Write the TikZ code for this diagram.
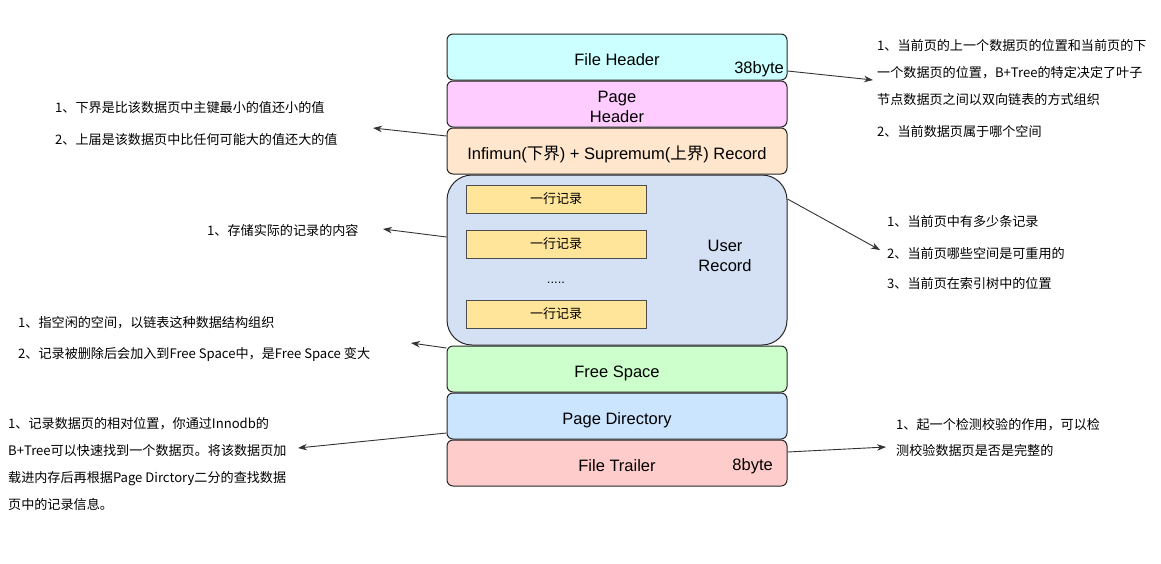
\documentclass[tikz,border=0pt]{standalone}
\usepackage{fontspec}
\setmainfont{Liberation Sans}
\newfontfamily\cjk{Noto Sans CJK SC}
\usetikzlibrary{arrows.meta}
\definecolor{fhcol}{HTML}{CCFFFF}
\definecolor{phcol}{HTML}{FFCCFF}
\definecolor{ifcol}{HTML}{FFE6CC}
\definecolor{urcol}{HTML}{D4E1F5}
\definecolor{rowcol}{HTML}{FFE599}
\definecolor{fscol}{HTML}{CCFFCC}
\definecolor{pdcol}{HTML}{CCE5FF}
\definecolor{ftcol}{HTML}{FFCCCC}
\begin{document}
\begin{tikzpicture}[x=1pt,y=-1pt,
	layer/.style={draw=black!85, line width=1pt, rounded corners=6pt, minimum width=340pt, minimum height=46pt, inner sep=0pt, text height=18pt, text depth=2pt, font=\fontsize{16.5}{19.5}\selectfont},
	row/.style={draw=black!70, line width=1pt, fill=rowcol, minimum width=180pt, minimum height=28pt, inner sep=0pt, font=\cjk\fontsize{13}{15}\selectfont},
	note/.style={anchor=west, align=left, inner sep=0pt, font=\cjk\fontsize{13.1}{26.7}\selectfont},
	arr/.style={draw=black!80, line width=0.9pt, -{Stealth[length=9pt,width=6.5pt]}}]
	\useasboundingbox (0,0) rectangle (1161,563);
	% page layers
	\node[layer, fill=urcol, minimum height=170pt, rounded corners=25pt] (ur) at (617,260) {};
	\node[layer, fill=fhcol] (fh) at (617,57) {File Header};
	\node[layer, fill=phcol, label={[align=center, inner sep=0pt, yshift=-3pt, font=\fontsize{16.5}{19.5}\selectfont]center:{Page\\Header}}] (ph) at (617,104) {};
	\node[layer, fill=ifcol] (inf) at (617,151) {Infimun({\cjk 下界}) + Supremum({\cjk 上界}) Record};
	\node[layer, fill=fscol] (fs) at (617,369) {Free Space};
	\node[layer, fill=pdcol] (pd) at (617,416) {Page Directory};
	\node[layer, fill=ftcol] (ft) at (617,463) {File Trailer};
	\node[font=\fontsize{16.5}{19.5}\selectfont, anchor=east, inner sep=0pt] (fhsize) at (784,69) {38byte};
	\node[font=\fontsize{16.5}{19.5}\selectfont, anchor=east, inner sep=0pt] (ftsize) at (773,466) {8byte};
	% user records
	\node[row] (r1) at (556,199) {一行记录};
	\node[row] (r2) at (556,244) {一行记录};
	\node[font=\fontsize{13}{15}\selectfont] (dots) at (556,283) {.....};
	\node[row] (r3) at (556,314) {一行记录};
	\node[align=center, font=\fontsize{16.5}{20}\selectfont] (urlab) at (725,256) {User\\Record};
	% notes
	\node[note] (nfh) at (877,88.5) {1、当前页的上一个数据页的位置和当前页的下\\一个数据页的位置，B+Tree的特定决定了叶子\\节点数据页之间以双向链表的方式组织\\[5pt]2、当前数据页属于哪个空间};
	\node[note] (ninf) at (55,123.5) {1、下界是比该数据页中主键最小的值还小的值\\[6pt]2、上届是该数据页中比任何可能大的值还大的值};
	\node[note] (nur) at (207,230) {1、存储实际的记录的内容};
	\node[note] (nur2) at (887,252.5) {1、当前页中有多少条记录\\[5pt]2、当前页哪些空间是可重用的\\[3pt]3、当前页在索引树中的位置};
	\node[note] (nfs) at (18,339) {1、指空闲的空间，以链表这种数据结构组织\\[5pt]2、记录被删除后会加入到Free Space中，是Free Space 变大};
	\node[note] (npd) at (8,464) {1、记录数据页的相对位置，你通过Innodb的\\B+Tree可以快速找到一个数据页。将该数据页加\\载进内存后再根据Page Dirctory二分的查找数据\\页中的记录信息。};
	\node[note] (nft) at (896,437.5) {1、起一个检测校验的作用，可以检\\测校验数据页是否是完整的};
	% arrow tips
	\coordinate (tfh) at (873,80);
	\coordinate (tinf) at (373,128);
	\coordinate (tur) at (383,229);
	\coordinate (tur2) at (880,250);
	\coordinate (tfs) at (411,343);
	\coordinate (tpd) at (298,448);
	\coordinate (tft) at (886,447);
	\draw[arr] ([yshift=-14pt]fh.east) -- (tfh);
	\draw[arr] ([yshift=15pt]inf.west) -- (tinf);
	\draw[arr] ([yshift=23pt]ur.west) -- (tur);
	\draw[arr] ([yshift=61pt]ur.east) -- (tur2);
	\draw[arr] ([yshift=21pt]fs.west) -- (tfs);
	\draw[arr] ([yshift=-17pt]pd.west) -- (tpd);
	\draw[arr] ([yshift=11pt]ft.east) -- (tft);
\end{tikzpicture}
\end{document}
